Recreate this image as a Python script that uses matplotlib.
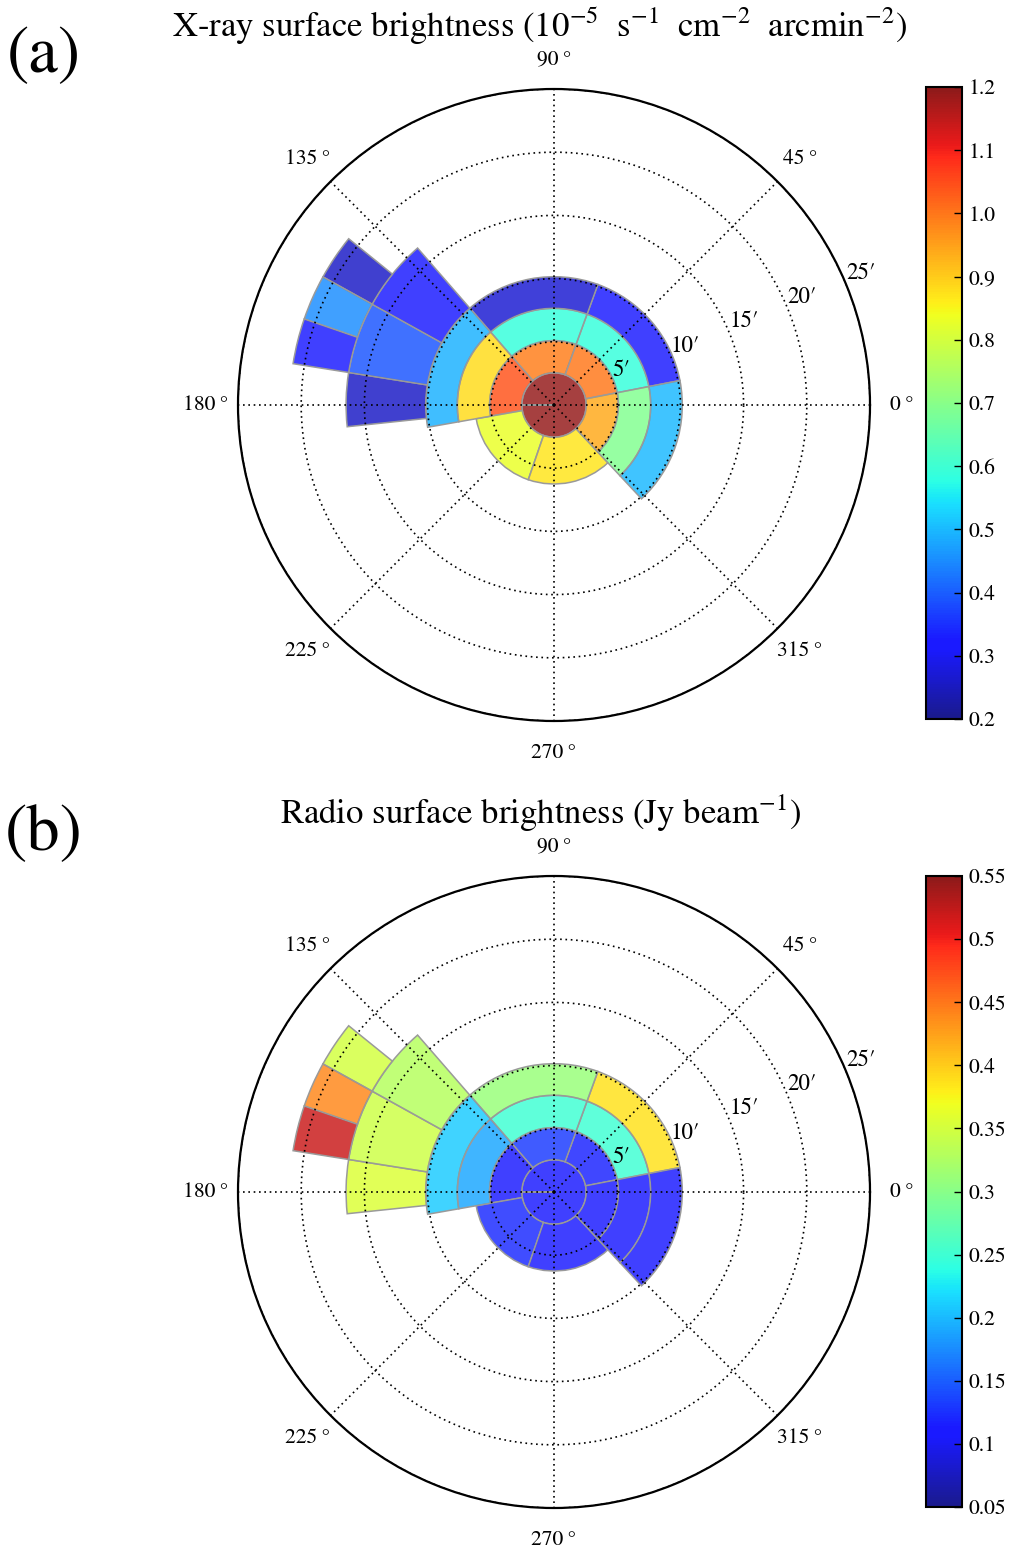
import numpy as np
import matplotlib
matplotlib.use("Agg")
import matplotlib.pyplot as plt
from matplotlib.colors import Normalize, ListedColormap
from matplotlib.cm import ScalarMappable

plt.rcParams['font.family'] = ['STIXGeneral', 'DejaVu Serif']
plt.rcParams['mathtext.fontset'] = 'stix'

# ---------------- data ----------------
# sector boundaries (degrees) and radial extent (arcmin) of every region
theta_start = [-180, 11, 70, 131, 190, 251, 313, 11, 70, 131, 313, 11, 70, 131, 313,
               171, 151, 131, 141, 151, 161]
theta_end = [180, 70, 131, 190, 251, 313, 371, 70, 131, 190, 371, 70, 131, 190, 371,
             186, 171, 151, 151, 161, 171]
r_inner = [0, 2.55, 2.55, 2.55, 2.55, 2.55, 2.55, 5.1, 5.1, 5.1, 5.1,
           7.65, 7.65, 7.65, 7.65, 10.15, 10.15, 10.15, 16.45, 16.45, 16.45]
r_outer = [2.55, 5.1, 5.1, 5.1, 6.25, 6.25, 5.1, 7.65, 7.65, 7.65, 7.65,
           10.15, 10.15, 10.15, 10.15, 16.45, 16.45, 16.45, 20.9, 20.9, 20.9]

# X-ray surface brightness (1e-5 s^-1 cm^-2 arcmin^-2)
xray_sb = [1.19, 1.00, 0.99, 1.04, 0.83, 0.87, 0.94, 0.59, 0.59, 0.88, 0.69,
           0.32, 0.27, 0.49, 0.50, 0.255, 0.39, 0.32, 0.255, 0.45, 0.31]
# Radio surface brightness (Jy/beam)
radio_sb = [0.107, 0.118, 0.131, 0.112, 0.122, 0.107, 0.105, 0.25, 0.25, 0.19, 0.105,
            0.386, 0.31, 0.21, 0.108, 0.355, 0.345, 0.33, 0.35, 0.44, 0.52]

xray_ticks = [0.2, 0.3, 0.4, 0.5, 0.6, 0.7, 0.8, 0.9, 1.0, 1.1, 1.2]
xray_ticklabels = ['0.2', '0.3', '0.4', '0.5', '0.6', '0.7', '0.8', '0.9', '1.0', '1.1', '1.2']
radio_ticks = [0.05, 0.1, 0.15, 0.2, 0.25, 0.3, 0.35, 0.4, 0.45, 0.5, 0.55]
radio_ticklabels = ['0.05', '0.1', '0.15', '0.2', '0.25', '0.3', '0.35', '0.4', '0.45', '0.5', '0.55']

angle_ticks = [0, 45, 90, 135, 180, 225, 270, 315]
angle_labels = ['0\u2009°', '45\u2009°', '90\u2009°', '135\u2009°',
                '180\u2009°', '225\u2009°', '270\u2009°', '315\u2009°']
radius_ticks = [5, 10, 15, 20, 25]
radius_labels = ['5\u2032', '10\u2032', '15\u2032', '20\u2032', '25\u2032']

titles = [r'X-ray surface brightness ($10^{-5}\ \ \mathrm{s}^{-1}\ \ \mathrm{cm}^{-2}\ \ \mathrm{arcmin}^{-2}$)',
          r'Radio surface brightness (Jy beam$^{-1}$)']
panel_labels = ['(a)', '(b)']

# ---------------- figure ----------------
W, H = 1013, 1551
fig = plt.figure(figsize=(W / 100, H / 100), dpi=100)

jet = plt.get_cmap('jet')
cb_colors = jet(np.linspace(0, 1, 256))
cb_colors[:, :3] = cb_colors[:, :3] * 0.9 + 0.1
cb_cmap = ListedColormap(cb_colors)

R = 316
centers = [(554, 405), (554, 1192)]
cbar_y = [(87, 719), (876, 1507)]
title_y = [26, 813]
panel_y = [57, 835]
datasets = [xray_sb, radio_sb]
limits = [(0.2, 1.2), (0.05, 0.55)]
ticks = [(xray_ticks, xray_ticklabels), (radio_ticks, radio_ticklabels)]

for k in range(2):
    cx, cy = centers[k]
    ax = fig.add_axes([(cx - R) / W, 1 - (cy + R) / H, 2 * R / W, 2 * R / H],
                      projection='polar')
    norm = Normalize(*limits[k])
    vals = datasets[k]
    for t0, t1, r0, r1, v in zip(theta_start, theta_end, r_inner, r_outer, vals):
        fc = list(jet(norm(v)))
        fc[3] = 0.75
        ax.bar(np.deg2rad((t0 + t1) / 2), r1 - r0, width=np.deg2rad(t1 - t0),
               bottom=r0, align='center', facecolor=fc, edgecolor='#9a9a9a',
               linewidth=1.1, zorder=1)
    ax.set_ylim(0, 25)
    ax.set_yticks(radius_ticks)
    ax.set_yticklabels([])
    ax.set_xticks(np.deg2rad(angle_ticks))
    ax.set_xticklabels([])
    ax.tick_params(length=0)
    ax.grid(True, color='k', linestyle=(0, (1, 2.2)), linewidth=1.2)
    ax.spines['polar'].set_linewidth(1.6)
    for a, lab in zip(angle_ticks, angle_labels):
        rr = 345 if a == 90 else 348
        ax.text(np.deg2rad(a), 25 * rr / 316, lab, ha='center', va='center',
                fontsize=15.5, clip_on=False)
    for r, lab in zip(radius_ticks, radius_labels):
        ax.text(np.deg2rad(22.5), r, lab, ha='left', va='bottom',
                fontsize=16.5, clip_on=False)

    y0, y1 = cbar_y[k]
    cax = fig.add_axes([925.5 / W, 1 - y1 / H, 36 / W, (y1 - y0) / H])
    sm = ScalarMappable(norm=norm, cmap=cb_cmap)
    cb = fig.colorbar(sm, cax=cax)
    cb.set_ticks(ticks[k][0])
    cb.set_ticklabels(ticks[k][1])
    cb.outline.set_linewidth(1.5)
    cax.tick_params(direction='in', length=6, width=1, labelsize=15.5, pad=5,
                    right=True, left=False)

    fig.text(540 / W, 1 - title_y[k] / H, titles[k], ha='center', va='center',
             fontsize=25)
    fig.text(44 / W, 1 - panel_y[k] / H, panel_labels[k], ha='center', va='center',
             fontsize=48)

fig.savefig('out.png', dpi=100)
